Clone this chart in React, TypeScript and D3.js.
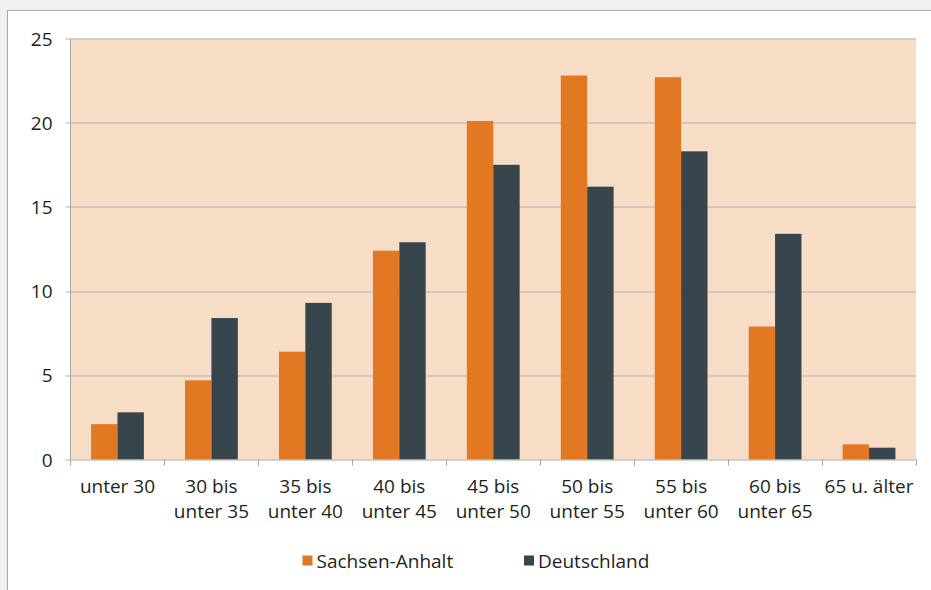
import * as d3 from "d3";
import { useEffect, useRef } from "react";

const categories = [
  ["unter 30"],
  ["30 bis", "unter 35"],
  ["35 bis", "unter 40"],
  ["40 bis", "unter 45"],
  ["45 bis", "unter 50"],
  ["50 bis", "unter 55"],
  ["55 bis", "unter 60"],
  ["60 bis", "unter 65"],
  ["65 u. älter"],
];
const sachsenAnhalt = [2.1, 4.7, 6.4, 12.4, 20.1, 22.8, 22.7, 7.9, 0.9];
const deutschland = [2.8, 8.4, 9.3, 12.9, 17.5, 16.2, 18.3, 13.4, 0.7];
const seriesNames = ["Sachsen-Anhalt", "Deutschland"];
const colors = ["#e37822", "#37454d"];
const yTicks = [0, 5, 10, 15, 20, 25];

const W = 931;
const H = 590;
const margin = { top: 38.5, left: 70.5, right: 15, bottom: 130.5 };
const font = "'Open Sans', sans-serif";

export default function App() {
  const ref = useRef(null);

  useEffect(() => {
    draw();
  });

  function draw() {
    const svg = d3.select(ref.current);
    svg.selectAll("*").remove();

    const width = W - margin.left - margin.right;
    const height = H - margin.top - margin.bottom;

    // page background and white panel
    svg.append("rect").attr("width", W).attr("height", H).attr("fill", "#f0f0f0");
    svg
      .append("rect")
      .attr("x", 7.5)
      .attr("y", 10.5)
      .attr("width", W + 10)
      .attr("height", H + 10)
      .attr("fill", "#ffffff")
      .attr("stroke", "#a8a8a8")
      .attr("stroke-width", 1);

    const plot = svg
      .append("g")
      .attr("transform", "translate(" + margin.left + "," + margin.top + ")");

    const x = d3
      .scaleBand()
      .domain(categories.map((d, i) => String(i)))
      .range([0, width]);
    const inner = d3
      .scaleBand()
      .domain(seriesNames)
      .range([0, x.bandwidth()])
      .paddingOuter(0.78)
      .paddingInner(0);
    const y = d3.scaleLinear().domain([0, 25]).range([height, 0]);

    plot
      .append("rect")
      .attr("width", width)
      .attr("height", height)
      .attr("fill", "#f7dcc6");

    // gridlines + y ticks
    plot
      .append("g")
      .selectAll("line")
      .data(yTicks)
      .enter()
      .append("line")
      .attr("x1", -5)
      .attr("x2", (d) => (d === 0 ? 0 : width))
      .attr("y1", (d) => Math.round(y(d)) + 0.5)
      .attr("y2", (d) => Math.round(y(d)) + 0.5)
      .attr("stroke", "#b3b3b3")
      .attr("stroke-width", 1);

    plot
      .append("g")
      .selectAll("text")
      .data(yTicks)
      .enter()
      .append("text")
      .attr("x", -18)
      .attr("y", (d) => y(d) + 7)
      .attr("text-anchor", "end")
      .attr("font-family", font)
      .attr("font-size", 19)
      .attr("fill", "#231f20")
      .text((d) => d);

    // bars
    const data = categories.map((c, i) => [sachsenAnhalt[i], deutschland[i]]);
    const groups = plot
      .append("g")
      .selectAll("g")
      .data(data)
      .enter()
      .append("g")
      .attr("transform", (d, i) => "translate(" + x(String(i)) + ",0)");
    groups
      .selectAll("rect")
      .data((d) => d)
      .enter()
      .append("rect")
      .attr("x", (d, j) => inner(seriesNames[j]))
      .attr("width", inner.bandwidth())
      .attr("y", (d) => y(d))
      .attr("height", (d) => height - y(d))
      .attr("fill", (d, j) => colors[j]);

    // axes lines
    plot
      .append("line")
      .attr("x1", 0)
      .attr("x2", 0)
      .attr("y1", 0)
      .attr("y2", height)
      .attr("stroke", "#a6a6a6");
    plot
      .append("line")
      .attr("x1", 0)
      .attr("x2", width)
      .attr("y1", height + 0.5)
      .attr("y2", height + 0.5)
      .attr("stroke", "#a6a6a6");
    plot
      .append("g")
      .selectAll("line")
      .data(d3.range(categories.length + 1))
      .enter()
      .append("line")
      .attr("x1", (i) => Math.round(i * x.step()))
      .attr("x2", (i) => Math.round(i * x.step()))
      .attr("y1", height)
      .attr("y2", height + 6)
      .attr("stroke", "#a6a6a6");

    // x labels
    const labels = plot
      .append("g")
      .selectAll("text")
      .data(categories)
      .enter()
      .append("text")
      .attr("text-anchor", "middle")
      .attr("font-family", font)
      .attr("font-size", 19)
      .attr("fill", "#231f20")
      .attr("transform", (d, i) => "translate(" + (x(String(i)) + x.bandwidth() / 2) + "," + (height + 33) + ")");
    labels
      .selectAll("tspan")
      .data((d) => d)
      .enter()
      .append("tspan")
      .attr("x", 0)
      .attr("y", (d, j) => j * 25)
      .text((d) => d);

    // legend
    const legendX = [302.5, 524];
    const legend = svg
      .append("g")
      .selectAll("g")
      .data(seriesNames)
      .enter()
      .append("g")
      .attr("transform", (d, i) => "translate(" + legendX[i] + ",555.5)");
    legend
      .append("rect")
      .attr("width", 10)
      .attr("height", 10)
      .attr("fill", (d, i) => colors[i]);
    legend
      .append("text")
      .attr("x", 14)
      .attr("y", 12)
      .attr("font-family", font)
      .attr("font-size", 19)
      .attr("fill", "#231f20")
      .text((d) => d);
  }

  return (
    <svg
      width={W}
      height={H}
      ref={ref}
      style={{ position: "absolute", left: 0, top: 0 }}
    ></svg>
  );
}
